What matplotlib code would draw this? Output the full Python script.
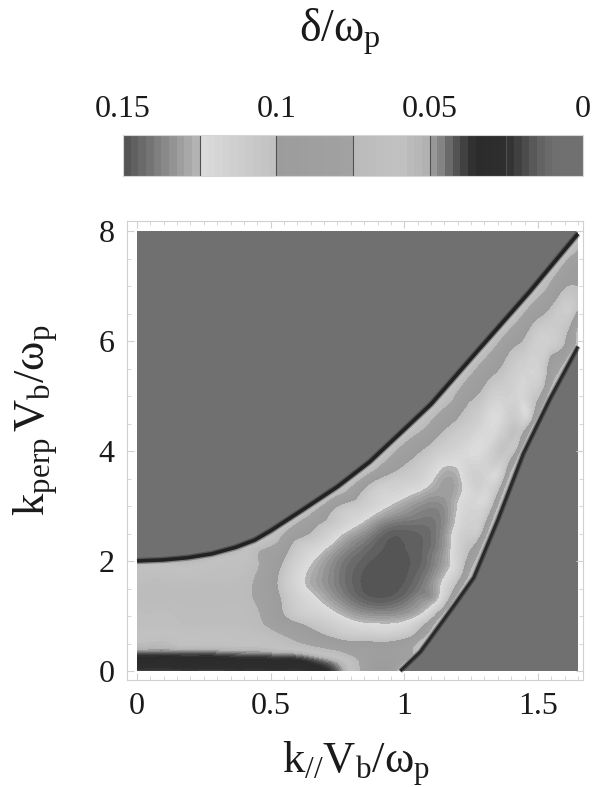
import numpy as np
import matplotlib
matplotlib.use('Agg')
import matplotlib.pyplot as plt
import matplotlib.tri as mtri
from matplotlib.colors import LinearSegmentedColormap, Normalize

plt.rcParams['font.family'] = 'Liberation Serif'
plt.rcParams['mathtext.fontset'] = 'custom'
plt.rcParams['mathtext.rm'] = 'Liberation Serif'
plt.rcParams['mathtext.it'] = 'Liberation Serif:italic'

# Верхняя граница области неустойчивости (k_par, k_perp)
UPPER_KPAR = [0.0, 0.10, 0.19, 0.28, 0.37, 0.44, 0.50, 0.62, 0.75, 0.87, 0.98, 1.10, 1.28, 1.47, 1.65]
UPPER_KPERP = [2.00, 2.02, 2.06, 2.13, 2.25, 2.38, 2.55, 2.93, 3.35, 3.80, 4.30, 4.85, 5.85, 6.90, 7.95]

# Нижняя (правая) граница
LOWER_KPAR = [0.985, 1.06, 1.12, 1.18, 1.26, 1.35, 1.445, 1.545, 1.65]
LOWER_KPERP = [0.0, 0.35, 0.75, 1.15, 1.70, 2.75, 3.95, 4.95, 5.90]
EDGE_DELTA = 0.05

ROW_KPERP = [0.0, 0.1, 0.2, 0.3, 0.4, 0.6, 0.8, 1.0, 1.25, 1.5, 1.75, 2.0, 2.25, 2.5, 2.75,
             3.0, 3.5, 4.0, 4.5, 5.0, 5.5, 6.0, 6.5, 7.0, 7.5]
ROW_KPAR = [
    [0.0, 0.15, 0.3, 0.45, 0.55, 0.65, 0.75, 0.85, 0.95],
    [0.0, 0.15, 0.3, 0.45, 0.55, 0.65, 0.75, 0.85, 0.95],
    [0.0, 0.15, 0.3, 0.45, 0.55, 0.65, 0.75, 0.85, 0.95],
    [0.0, 0.15, 0.3, 0.45, 0.55, 0.65, 0.75, 0.85, 0.95, 1.02],
    [0.0, 0.15, 0.3, 0.45, 0.55, 0.65, 0.75, 0.85, 0.95, 1.03],
    [0.0, 0.15, 0.3, 0.45, 0.55, 0.65, 0.75, 0.85, 0.95, 1.05],
    [0.0, 0.15, 0.3, 0.45, 0.55, 0.65, 0.75, 0.85, 0.95, 1.05],
    [0.0, 0.15, 0.3, 0.45, 0.55, 0.65, 0.75, 0.85, 0.95, 1.05, 1.12],
    [0.0, 0.15, 0.3, 0.45, 0.55, 0.65, 0.75, 0.85, 0.95, 1.05, 1.15],
    [0.0, 0.15, 0.3, 0.45, 0.55, 0.65, 0.75, 0.85, 0.95, 1.05, 1.15, 1.20],
    [0.0, 0.15, 0.3, 0.45, 0.55, 0.65, 0.75, 0.85, 0.95, 1.05, 1.15, 1.23],
    [0.3, 0.45, 0.55, 0.65, 0.75, 0.85, 0.95, 1.05, 1.15, 1.25],
    [0.45, 0.55, 0.65, 0.75, 0.85, 0.95, 1.05, 1.15, 1.25],
    [0.55, 0.65, 0.75, 0.85, 0.95, 1.05, 1.15, 1.25, 1.30],
    [0.60, 0.65, 0.75, 0.85, 0.95, 1.05, 1.15, 1.25, 1.32],
    [0.68, 0.75, 0.85, 0.95, 1.05, 1.15, 1.25, 1.34],
    [0.83, 0.90, 1.00, 1.10, 1.20, 1.30, 1.38],
    [0.95, 1.02, 1.10, 1.20, 1.30, 1.38, 1.43],
    [1.07, 1.13, 1.20, 1.28, 1.36, 1.43, 1.48],
    [1.17, 1.22, 1.29, 1.36, 1.43, 1.49, 1.53],
    [1.25, 1.31, 1.38, 1.45, 1.51, 1.57],
    [1.34, 1.39, 1.46, 1.53, 1.60, 1.65],
    [1.43, 1.48, 1.55, 1.61, 1.65],
    [1.52, 1.57, 1.62, 1.65],
    [1.60, 1.65],
]
ROW_DELTA = [
    [0.020, 0.020, 0.020, 0.021, 0.022, 0.026, 0.042, 0.080, 0.095],
    [0.029, 0.029, 0.029, 0.029, 0.030, 0.032, 0.046, 0.080, 0.095],
    [0.032, 0.032, 0.032, 0.033, 0.034, 0.039, 0.054, 0.080, 0.092],
    [0.038, 0.038, 0.039, 0.042, 0.045, 0.052, 0.066, 0.084, 0.090, 0.080],
    [0.051, 0.051, 0.052, 0.054, 0.058, 0.066, 0.078, 0.088, 0.090, 0.075],
    [0.060, 0.060, 0.061, 0.064, 0.072, 0.088, 0.100, 0.105, 0.105, 0.085],
    [0.064, 0.065, 0.066, 0.070, 0.085, 0.100, 0.112, 0.120, 0.121, 0.105],
    [0.067, 0.068, 0.069, 0.073, 0.098, 0.112, 0.122, 0.131, 0.132, 0.124, 0.090],
    [0.069, 0.070, 0.071, 0.076, 0.102, 0.120, 0.132, 0.143, 0.144, 0.134, 0.105],
    [0.069, 0.070, 0.071, 0.078, 0.106, 0.126, 0.138, 0.148, 0.149, 0.141, 0.118, 0.085],
    [0.063, 0.064, 0.066, 0.076, 0.106, 0.127, 0.139, 0.148, 0.150, 0.144, 0.125, 0.085],
    [0.060, 0.073, 0.100, 0.123, 0.137, 0.146, 0.149, 0.146, 0.130, 0.085],
    [0.066, 0.090, 0.115, 0.130, 0.142, 0.148, 0.146, 0.132, 0.100],
    [0.074, 0.100, 0.120, 0.134, 0.146, 0.145, 0.133, 0.110, 0.085],
    [0.065, 0.085, 0.108, 0.123, 0.136, 0.140, 0.135, 0.115, 0.085],
    [0.068, 0.098, 0.112, 0.125, 0.134, 0.134, 0.118, 0.085],
    [0.068, 0.097, 0.110, 0.122, 0.127, 0.115, 0.085],
    [0.066, 0.090, 0.106, 0.118, 0.120, 0.105, 0.080],
    [0.066, 0.088, 0.103, 0.115, 0.119, 0.108, 0.080],
    [0.066, 0.088, 0.103, 0.115, 0.118, 0.105, 0.078],
    [0.066, 0.088, 0.104, 0.115, 0.113, 0.080],
    [0.066, 0.088, 0.104, 0.114, 0.100, 0.062],
    [0.066, 0.088, 0.104, 0.110, 0.095],
    [0.066, 0.088, 0.100, 0.100],
    [0.066, 0.085],
]

CMAP_VALUES = [0.0, 0.008, 0.013, 0.018, 0.022, 0.025, 0.035, 0.040, 0.044, 0.047,
               0.050, 0.050, 0.060, 0.075, 0.075, 0.100, 0.100, 0.125, 0.125, 0.150]
CMAP_GRAYS = [0x70, 0x70, 0x66, 0x50, 0x3c, 0x2e, 0x2a, 0x48, 0x6c, 0x8c,
              0xa0, 0xb0, 0xc2, 0xba, 0xa2, 0x9c, 0xc0, 0xdc, 0xb8, 0x50]
CBAR_TICKS = [0.15, 0.1, 0.05, 0.0]
CBAR_TICKLABELS = ['0.15', '0.1', '0.05', '0']
CBAR_LINES = [0.125, 0.1, 0.075, 0.05, 0.025]
X_TICKS = [0, 0.5, 1, 1.5]
X_TICKLABELS = ['0', '0.5', '1', '1.5']
Y_TICKS = [0, 2, 4, 6, 8]

DMAX = 0.15
LEVELS = np.linspace(0, DMAX, 61)

cmap = LinearSegmentedColormap.from_list(
    'delta', [(v / DMAX, (g / 255, g / 255, g / 255)) for v, g in zip(CMAP_VALUES, CMAP_GRAYS)], N=2048)
norm = Normalize(0, DMAX)

# Точки поля
px, py, pz = [], [], []
for kp, xs, zs in zip(ROW_KPERP, ROW_KPAR, ROW_DELTA):
    px += xs
    py += [kp] * len(xs)
    pz += zs
px += UPPER_KPAR + LOWER_KPAR
py += UPPER_KPERP + LOWER_KPERP
pz += [EDGE_DELTA] * (len(UPPER_KPAR) + len(LOWER_KPAR))
px, py, pz = np.array(px), np.array(py), np.array(pz)

aspect = 8 / 1.65
tri = mtri.Triangulation(px * aspect, py)
tri_f, z_f = mtri.UniformTriRefiner(tri).refine_field(pz, subdiv=3)
tri_plot = mtri.Triangulation(tri_f.x / aspect, tri_f.y, tri_f.triangles)
z_f = np.clip(z_f, 0, DMAX - 1e-4)

fig = plt.figure(figsize=(5.92, 7.87), dpi=100)
ax = fig.add_axes([127 / 592, 1 - 680 / 787, 456 / 592, 459 / 787])

ax.tricontourf(tri_plot, z_f, levels=LEVELS, cmap=cmap, norm=norm)

# Устойчивые области (delta = 0) и тёмная кромка на их границе
bg = cmap(0.0)
ax.fill(UPPER_KPAR + [1.65, 0.0], UPPER_KPERP + [8.0, 8.0], color=bg, lw=0)
ax.fill(LOWER_KPAR + [1.65], LOWER_KPERP + [0.0], color=bg, lw=0)
ax.plot(UPPER_KPAR, UPPER_KPERP, color='#202020', lw=4.5, alpha=0.35, solid_capstyle='butt')
ax.plot(UPPER_KPAR, UPPER_KPERP, color='#222222', lw=2.6, solid_capstyle='butt')
ax.plot(LOWER_KPAR, LOWER_KPERP, color='#202020', lw=4.0, alpha=0.35, solid_capstyle='butt')
ax.plot(LOWER_KPAR, LOWER_KPERP, color='#2a2a2a', lw=2.2, solid_capstyle='butt')

ax.set_xlim(-10 / 267.3, 1.65 + 5 / 267.3)
ax.set_ylim(-9 / 55, 8 + 10 / 55)
ax.set_xticks(X_TICKS)
ax.set_xticklabels(X_TICKLABELS)
ax.set_yticks(Y_TICKS)
ax.set_xticks(np.arange(0, 1.66, 0.05), minor=True)
ax.set_yticks(np.arange(0, 8.01, 0.5), minor=True)
ax.tick_params(which='both', direction='in', top=True, right=True, color='#d0d0d0',
               labelsize=23, labelcolor='#1a1a1a', pad=9)
ax.tick_params(which='major', length=5)
ax.tick_params(which='minor', length=3)
for s in ax.spines.values():
    s.set_color('#d0d0d0')
    s.set_linewidth(0.8)

# Цветовая шкала
cax = fig.add_axes([123 / 592, 1 - 176 / 787, 460 / 592, 41 / 787])
mids = 0.5 * (LEVELS[1:] + LEVELS[:-1])
cax.pcolormesh(LEVELS, [0, 1], mids[np.newaxis, :], cmap=cmap, norm=norm)
for v in CBAR_LINES:
    cax.axvline(v, color='#505050', lw=0.8)
cax.set_xlim(DMAX, 0)
cax.set_ylim(0, 1)
cax.set_yticks([])
cax.xaxis.tick_top()
cax.set_xticks(CBAR_TICKS)
cax.set_xticklabels(CBAR_TICKLABELS)
cax.tick_params(length=0, labelsize=23, labelcolor='#1a1a1a', pad=8)
for s in cax.spines.values():
    s.set_color('#d8d8d8')
    s.set_linewidth(0.8)

fig.text(340 / 592, 1 - 42 / 787, r'$\mathrm{\delta/\omega_p}$', fontsize=33,
         ha='center', va='baseline', color='#1a1a1a')
fig.text(356 / 592, 1 - 773 / 787, r'$\mathrm{k_{//}V_b/\omega_p}$', fontsize=32,
         ha='center', va='baseline', color='#1a1a1a')
fig.text(36 / 592, 1 - 420 / 787, r'$\mathrm{k_{perp}\,V_b/\omega_p}$', fontsize=32,
         ha='center', va='center', rotation=90, color='#1a1a1a')

fig.savefig('out.png', dpi=100)
